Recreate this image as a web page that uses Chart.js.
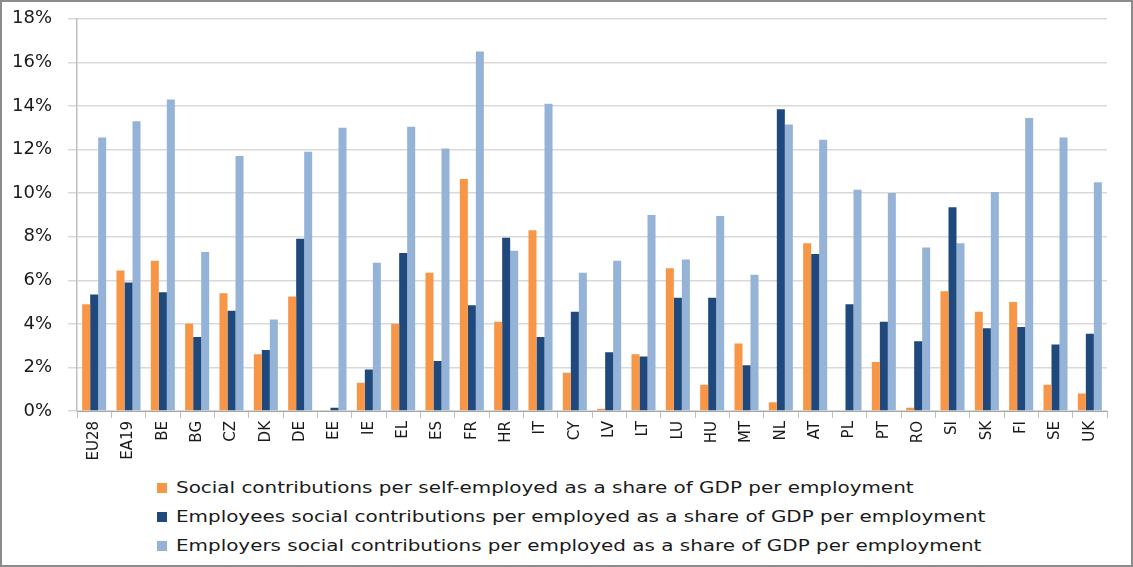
<!DOCTYPE html>
<html>
<head>
<meta charset="utf-8">
<script src="https://cdn.jsdelivr.net/npm/chart.js@4"></script>
<style>
    body { margin: 0; background: #fff; }
    #frame {
        position: relative;
        width: 1133px;
        height: 567px;
        box-sizing: border-box;
        border: 2px solid #8c8c8c;
        overflow: hidden;
        font-family: "DejaVu Sans", sans-serif;
    }
    #chartBox { position: absolute; left: -2px; top: -10px; width: 1133px; height: 474px; }
    #legend { position: absolute; left: 155px; top: 471px; }
    .legend-item { display: flex; align-items: center; height: 29px; font-size: 16px; color: #1a1a1a; }
    .legend-box { width: 10px; height: 10px; margin-right: 9px; }
    .legend-text { display: inline-block; transform: scaleX(1.245); transform-origin: left center; white-space: nowrap; }
</style>
</head>
<body>
<div id="frame">
    <div id="chartBox"><canvas id="socChart"></canvas></div>
    <div id="legend"></div>
</div>
<script>
// Countries along the x axis
const countries = ['EU28', 'EA19', 'BE', 'BG', 'CZ', 'DK', 'DE', 'EE', 'IE', 'EL', 'ES', 'FR', 'HR', 'IT', 'CY',
    'LV', 'LT', 'LU', 'HU', 'MT', 'NL', 'AT', 'PL', 'PT', 'RO', 'SI', 'SK', 'FI', 'SE', 'UK'];

// Values in % of GDP per employment
const selfEmployed = [4.9, 6.45, 6.9, 4.0, 5.4, 2.6, 5.25, 0, 1.3, 4.0, 6.35, 10.65, 4.1, 8.3, 1.75,
    0.1, 2.6, 6.55, 1.2, 3.1, 0.4, 7.7, 0, 2.25, 0.15, 5.5, 4.55, 5.0, 1.2, 0.8];
const employees = [5.35, 5.9, 5.45, 3.4, 4.6, 2.8, 7.9, 0.15, 1.9, 7.25, 2.3, 4.85, 7.95, 3.4, 4.55,
    2.7, 2.5, 5.2, 5.2, 2.1, 13.85, 7.2, 4.9, 4.1, 3.2, 9.35, 3.8, 3.85, 3.05, 3.55];
const employers = [12.55, 13.3, 14.3, 7.3, 11.7, 4.2, 11.9, 13.0, 6.8, 13.05, 12.05, 16.5, 7.35, 14.1, 6.35,
    6.9, 9.0, 6.95, 8.95, 6.25, 13.15, 12.45, 10.15, 10.0, 7.5, 7.7, 10.05, 13.45, 12.55, 10.5];

const seriesLabels = [
    'Social contributions per self-employed as a share of GDP per employment',
    'Employees social contributions per employed as a share of GDP per employment',
    'Employers social contributions per employed as a share of GDP per employment'
];
const seriesColors = ['#F79646', '#1F497D', '#95B3D7'];

const yTicks = [0, 2, 4, 6, 8, 10, 12, 14, 16, 18];

function makeDataset(i, values) {
    return {
        label: seriesLabels[i],
        data: values,
        backgroundColor: seriesColors[i],
        borderWidth: 0,
        categoryPercentage: 0.7,
        barPercentage: 1.0
    };
}

document.addEventListener('DOMContentLoaded', function() {
    const ctx = document.getElementById('socChart').getContext('2d');

    const chart = new Chart(ctx, {
        type: 'bar',
        data: {
            labels: countries,
            datasets: [
                makeDataset(0, selfEmployed),
                makeDataset(1, employees),
                makeDataset(2, employers)
            ]
        },
        options: {
            responsive: true,
            maintainAspectRatio: false,
            animation: false,
            layout: { padding: { top: 0, right: 26, left: 0, bottom: 0 } },
            plugins: {
                legend: { display: false },
                tooltip: { enabled: false }
            },
            scales: {
                x: {
                    afterFit: function(scale) { scale.height = 55; },
                    grid: {
                        offset: true,
                        drawOnChartArea: false,
                        drawTicks: true,
                        tickLength: 7,
                        color: '#BFBFBF'
                    },
                    border: { color: '#A6A6A6', width: 1 },
                    ticks: {
                        minRotation: 90,
                        maxRotation: 90,
                        autoSkip: false,
                        padding: 3,
                        color: '#1a1a1a',
                        font: { family: 'DejaVu Sans', size: 15 }
                    }
                },
                y: {
                    min: 0,
                    max: 18,
                    afterFit: function(scale) { scale.width = 77; },
                    afterBuildTicks: function(scale) {
                        scale.ticks = yTicks.map(v => ({ value: v }));
                    },
                    grid: {
                        color: '#D9D9D9',
                        lineWidth: 1.5,
                        drawTicks: true,
                        tickLength: 9
                    },
                    border: { color: '#BFBFBF', width: 1.5 },
                    ticks: {
                        padding: 16,
                        color: '#1a1a1a',
                        font: { family: 'DejaVu Sans', size: 18 },
                        callback: function(value) { return value + '%'; }
                    }
                }
            }
        }
    });

    // Legend drawn as html, stacked on the left like the original
    const legend = document.getElementById('legend');
    chart.data.datasets.forEach(ds => {
        const item = document.createElement('div');
        item.className = 'legend-item';
        item.innerHTML = `<span class="legend-box" style="background:${ds.backgroundColor}"></span><span class="legend-text">${ds.label}</span>`;
        legend.appendChild(item);
    });
});
</script>
</body>
</html>
